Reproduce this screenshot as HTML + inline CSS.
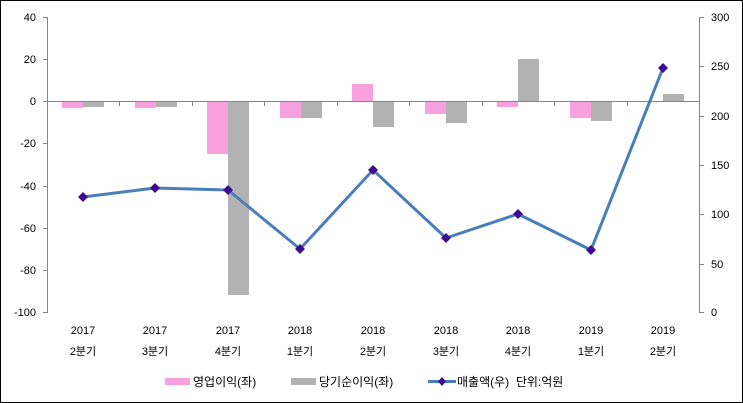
<!DOCTYPE html>
<html><head><meta charset="utf-8"><style>
body{margin:0;background:#fff}
svg{display:block;font-family:"Liberation Sans","Noto Sans CJK KR",sans-serif}
</style></head><body>
<svg width="743" height="403" viewBox="0 0 743 403">
<rect x="0.5" y="0.5" width="742" height="402" fill="#fff" stroke="#000"/>
<g stroke="#868686" stroke-width="1" fill="none">
<line x1="47.5" y1="17" x2="47.5" y2="313"/>
<line x1="43" y1="17.5" x2="47" y2="17.5"/><line x1="43" y1="59.5" x2="47" y2="59.5"/><line x1="43" y1="101.5" x2="47" y2="101.5"/><line x1="43" y1="143.5" x2="47" y2="143.5"/><line x1="43" y1="186.5" x2="47" y2="186.5"/><line x1="43" y1="228.5" x2="47" y2="228.5"/><line x1="43" y1="270.5" x2="47" y2="270.5"/><line x1="43" y1="312.5" x2="47" y2="312.5"/>
<line x1="699.5" y1="17" x2="699.5" y2="313"/>
<line x1="700" y1="17.5" x2="704" y2="17.5"/><line x1="700" y1="66.5" x2="704" y2="66.5"/><line x1="700" y1="116.5" x2="704" y2="116.5"/><line x1="700" y1="165.5" x2="704" y2="165.5"/><line x1="700" y1="214.5" x2="704" y2="214.5"/><line x1="700" y1="264.5" x2="704" y2="264.5"/><line x1="700" y1="312.5" x2="704" y2="312.5"/>
</g>
<g font-size="11" fill="#000" text-anchor="end">
<text x="36" y="21">40</text><text x="36" y="63">20</text><text x="36" y="105">0</text><text x="36" y="147">-20</text><text x="36" y="190">-40</text><text x="36" y="232">-60</text><text x="36" y="274">-80</text><text x="36" y="316">-100</text>
</g>
<g font-size="11" fill="#000" text-anchor="start">
<text x="711" y="21">300</text><text x="711" y="70">250</text><text x="711" y="120">200</text><text x="711" y="169">150</text><text x="711" y="218">100</text><text x="711" y="268">50</text><text x="711" y="316">0</text>
</g>
<g fill="#f9a0e0">
<rect x="62" y="101" width="21" height="7"/>
<rect x="135" y="101" width="21" height="7"/>
<rect x="207" y="101" width="21" height="53"/>
<rect x="280" y="101" width="21" height="17"/>
<rect x="352" y="84" width="21" height="17"/>
<rect x="425" y="101" width="21" height="13"/>
<rect x="497" y="101" width="21" height="6"/>
<rect x="570" y="101" width="21" height="17"/>
<rect x="642" y="101" width="21" height="1"/>
</g>
<g fill="#b2b2b2">
<rect x="83" y="101" width="21" height="6"/>
<rect x="156" y="101" width="21" height="6"/>
<rect x="228" y="101" width="21" height="194"/>
<rect x="301" y="101" width="21" height="17"/>
<rect x="373" y="101" width="21" height="26"/>
<rect x="446" y="101" width="21" height="22"/>
<rect x="518" y="59" width="21" height="42"/>
<rect x="591" y="101" width="21" height="20"/>
<rect x="663" y="94" width="21" height="7"/>
</g>
<g stroke="#868686" fill="none">
<line x1="47" y1="101.5" x2="700" y2="101.5"/>
<line x1="119.5" y1="101" x2="119.5" y2="106"/><line x1="192.5" y1="101" x2="192.5" y2="106"/><line x1="264.5" y1="101" x2="264.5" y2="106"/><line x1="337.5" y1="101" x2="337.5" y2="106"/><line x1="409.5" y1="101" x2="409.5" y2="106"/><line x1="482.5" y1="101" x2="482.5" y2="106"/><line x1="554.5" y1="101" x2="554.5" y2="106"/><line x1="627.5" y1="101" x2="627.5" y2="106"/><line x1="699.5" y1="101" x2="699.5" y2="106"/>
</g>
<polyline points="83,197 155,188 228,190 300,249 373,170 446,238 518,214 591,250 663,68" fill="none" stroke="#4a7ebb" stroke-width="3" stroke-linejoin="round"/>
<g fill="#3d0a91">
<path d="M83,192 l5,5 l-5,5 l-5,-5z"/><path d="M155,183 l5,5 l-5,5 l-5,-5z"/><path d="M228,185 l5,5 l-5,5 l-5,-5z"/><path d="M300,244 l5,5 l-5,5 l-5,-5z"/><path d="M373,165 l5,5 l-5,5 l-5,-5z"/><path d="M446,233 l5,5 l-5,5 l-5,-5z"/><path d="M518,209 l5,5 l-5,5 l-5,-5z"/><path d="M591,245 l5,5 l-5,5 l-5,-5z"/><path d="M663,63 l5,5 l-5,5 l-5,-5z"/>
</g>
<g font-size="11" fill="#000" text-anchor="middle">
<text x="83" y="334">2017</text><text x="155" y="334">2017</text><text x="228" y="334">2017</text><text x="300" y="334">2018</text><text x="373" y="334">2018</text><text x="446" y="334">2018</text><text x="518" y="334">2018</text><text x="591" y="334">2019</text><text x="663" y="334">2019</text>
<text x="83" y="355">2분기</text><text x="155" y="355">3분기</text><text x="228" y="355">4분기</text><text x="300" y="355">1분기</text><text x="373" y="355">2분기</text><text x="446" y="355">3분기</text><text x="518" y="355">4분기</text><text x="591" y="355">1분기</text><text x="663" y="355">2분기</text>
</g>
<rect x="165" y="378" width="25" height="7" fill="#f9a0e0"/>
<rect x="291" y="378" width="25" height="7" fill="#b2b2b2"/>
<line x1="428" y1="381.5" x2="456" y2="381.5" stroke="#4a7ebb" stroke-width="3"/>
<path d="M442,377 l4,4.5 l-4,4.5 l-4,-4.5z" fill="#3d0a91"/>
<g font-size="12" fill="#000">
<text x="193" y="386">영업이익(좌)</text>
<text x="319" y="386">당기순이익(좌)</text>
<text x="457" y="386">매출액(우)&#160;&#160;단위:억원</text>
</g>
</svg>
</body></html>
